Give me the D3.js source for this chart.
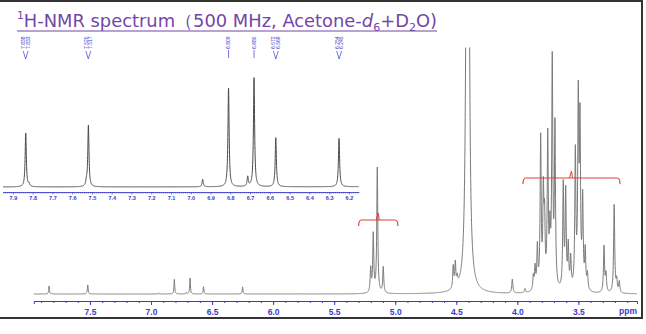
<!DOCTYPE html>
<html lang="en">
<head>
    <meta charset="UTF-8">
    <title>1H-NMR spectrum (500 MHz, Acetone-d6+D2O)</title>
    <style>
        body { margin: 0; background: #fff; }
        svg { display: block; }
    </style>
</head>
<body>
<script src="https://cdn.jsdelivr.net/npm/d3@7"></script>
<script>
    const width = 646, height = 334;

    // peak lists: chemical shift (ppm) and height (main-trace units)
    const aromaticShift  = [7.835, 7.818, 7.528, 7.518, 6.940, 6.809, 6.712, 6.680, 6.570, 6.250, 5.770];
    const aromaticHeight = [7.9, 0.4, 0.6, 9.0, 1.1, 14.5, 1.4, 16.0, 7.2, 7.1, 0.4];

    const anomericShift  = [5.201, 5.180, 5.147, 5.098];
    const anomericHeight = [24, 58, 125, 26];

    const waterShift  = [4.525, 4.508, 4.492, 4.407];
    const waterHeight = [22, 24, 8, 3000];

    const sugarShift  = [4.041, 3.937, 3.869, 3.855, 3.836, 3.809, 3.787, 3.777, 3.751, 3.733,
                         3.714, 3.692, 3.624, 3.604, 3.583, 3.563, 3.525, 3.501, 3.487, 3.465,
                         3.444, 3.426, 3.290, 3.274, 3.207, 3.186, 3.165];
    const sugarHeight = [14, 4, 14, 22, 42, 150, 90, 62, 150, 50,
                         225, 160, 104, 96, 42, 30, 135, 185, 160, 88,
                         38, 16, 46, 18, 88, 12, 11];

    // integration ranges (ppm)
    const integralFrom = [5.300, 3.954];
    const integralTo   = [4.978, 3.159];

    // picked peaks printed above the expansion
    const pickedPeaks = [[7.838, 7.833], [7.520, 7.517], [6.809], [6.680], [6.572, 6.568], [6.254, 6.245]];

    const mainTicks  = [7.5, 7.0, 6.5, 6.0, 5.5, 5.0, 4.5, 4.0, 3.5];
    const insetTicks = [7.9, 7.8, 7.7, 7.6, 7.5, 7.4, 7.3, 7.2, 7.1, 7.0, 6.9, 6.8, 6.7, 6.6, 6.5, 6.4, 6.3, 6.2];

    const blue = "#3b3bc8", purple = "#7446a6", red = "#e0413a";

    // half line width (ppm) used for each group of signals
    const peaks = [];
    [[aromaticShift, aromaticHeight, 0.0035], [anomericShift, anomericHeight, 0.005],
     [waterShift, waterHeight, 0.005], [sugarShift, sugarHeight, 0.0052]].forEach(([s, h, lw]) => {
        s.forEach((v, i) => peaks.push({shift: v, height: h[i], lw: lw}));
    });

    // lorentzian line shape for every listed peak
    function intensity(ppm) {
        let sum = 0;
        peaks.forEach(p => {
            const d = (ppm - p.shift) / p.lw;
            sum += p.height / (1 + d * d);
        });
        return sum;
    }

    const svg = d3.select("body")
        .append("svg")
        .attr("width", width)
        .attr("height", height)
        .attr("viewBox", [0, 0, width, height]);

    svg.append("rect").attr("width", width).attr("height", height).attr("fill", "#fff");

    // frame
    svg.append("rect")
        .attr("x", -2).attr("y", 1)
        .attr("width", 644).attr("height", 317)
        .attr("fill", "none")
        .attr("stroke", "#333")
        .attr("stroke-width", 2);

    // ---- main trace
    const x = d3.scaleLinear().domain([7.96, 3.02]).range([33.8, 637]);
    const y = d3.scaleLinear().domain([0, 247]).range([294, 47]);

    svg.append("clipPath").attr("id", "clip")
        .append("rect").attr("x", 0).attr("y", 47.5).attr("width", width).attr("height", 260);

    const mainPts = d3.range(7.96, 3.02, -0.001).map(p => [p, intensity(p)]);
    svg.append("path")
        .attr("clip-path", "url(#clip)")
        .attr("d", d3.line().x(d => x(d[0])).y(d => y(d[1]))(mainPts))
        .attr("fill", "none")
        .attr("stroke", "#7a7a7a")
        .attr("stroke-width", 1);

    // integrals
    const bracketY = [220, 178];
    integralFrom.forEach((from, i) => {
        const x1 = x(from), x2 = x(integralTo[i]), by = bracketY[i], xm = (x1 + x2) / 2;
        svg.append("path")
            .attr("d", `M${x1},${by + 6} Q${x1},${by} ${x1 + 3},${by} L${x2 - 3},${by} Q${x2},${by} ${x2},${by + 6}`)
            .attr("fill", "none").attr("stroke", red).attr("stroke-width", 1.2);
        svg.append("path")
            .attr("d", `M${xm - 2},${by} L${xm},${by - 7} L${xm + 1},${by}`)
            .attr("fill", "none").attr("stroke", red).attr("stroke-width", 1);
    });

    // main axis
    const axisY = 301;
    const minorMain = d3.range(79, 30, -1).map(v => v / 10);
    const gMinor = svg.append("g")
        .attr("transform", `translate(0,${axisY})`)
        .call(d3.axisBottom(x).tickValues(minorMain).tickSize(2).tickSizeOuter(0).tickFormat(""));
    const gMain = svg.append("g")
        .attr("transform", `translate(0,${axisY})`)
        .call(d3.axisBottom(x).tickValues(mainTicks).tickSize(4).tickSizeOuter(3).tickFormat(d3.format(".1f")));
    [gMinor, gMain].forEach(g => {
        g.selectAll("path,line").attr("stroke", blue);
    });
    gMain.selectAll("text")
        .attr("y", 7.5)
        .attr("fill", blue)
        .attr("font-family", "Liberation Sans, Arial, sans-serif")
        .attr("font-weight", "bold")
        .attr("font-size", 8.5);
    svg.append("text")
        .attr("x", 637).attr("y", 314)
        .attr("text-anchor", "end")
        .attr("fill", blue)
        .attr("font-family", "Liberation Sans, Arial, sans-serif")
        .attr("font-weight", "bold")
        .attr("font-size", 8.5)
        .text("ppm");

    // ---- expansion of the aromatic region
    const ix = d3.scaleLinear().domain([7.95, 6.15]).range([3, 358.8]);
    const iy = d3.scaleLinear().domain([0, 16]).range([187, 78]);

    const insetPts = d3.range(7.95, 6.15, -0.0005).map(p => [p, intensity(p)]);
    svg.append("path")
        .attr("d", d3.line().x(d => ix(d[0])).y(d => iy(d[1]))(insetPts))
        .attr("fill", "none")
        .attr("stroke", "#4a4a4a")
        .attr("stroke-width", 1);

    const insetAxisY = 192;
    const minorInset = d3.range(795, 615, -1).map(v => v / 100);
    const giMinor = svg.append("g")
        .attr("transform", `translate(0,${insetAxisY})`)
        .call(d3.axisBottom(ix).tickValues(minorInset).tickSize(1.5).tickSizeOuter(0).tickFormat(""));
    const giMain = svg.append("g")
        .attr("transform", `translate(0,${insetAxisY})`)
        .call(d3.axisBottom(ix).tickValues(insetTicks).tickSize(2.5).tickSizeOuter(0).tickFormat(d3.format(".1f")));
    [giMinor, giMain].forEach(g => {
        g.selectAll("path,line").attr("stroke", blue).attr("stroke-width", 0.6);
    });
    giMain.selectAll("text")
        .attr("y", 4)
        .attr("fill", blue)
        .attr("font-family", "Liberation Sans, Arial, sans-serif")
        .attr("font-weight", "bold")
        .attr("font-size", 5.5);

    // picked peak labels
    pickedPeaks.forEach(group => {
        const cx = ix(d3.mean(group));
        const g = svg.append("g");
        group.forEach((v, i) => {
            const tx = group.length === 1 ? cx : cx + (i === 0 ? -2.4 : 2.4);
            g.append("text")
                .attr("transform", `translate(${tx + 1.8},49) rotate(-90)`)
                .attr("fill", blue)
                .attr("font-family", "Liberation Sans, Arial, sans-serif")
                .attr("font-size", 5)
                .text(v.toFixed(3));
        });
        const d = group.length === 1
            ? `M${cx},50 L${cx},58`
            : `M${cx - 2.4},51 L${cx},59 L${cx + 2.4},51`;
        g.append("path").attr("d", d).attr("fill", "none").attr("stroke", blue).attr("stroke-width", 0.7);
    });

    // ---- title
    function drawTitle(fs) {
        svg.select("#title").remove();
        const t = svg.append("text")
            .attr("id", "title")
            .attr("x", 17).attr("y", 27)
            .attr("fill", purple)
            .attr("font-family", "DejaVu Sans, Verdana, sans-serif")
            .attr("font-size", fs);
        t.append("tspan").attr("font-size", fs * 0.6).attr("dy", -fs * 0.42).text("1");
        t.append("tspan").attr("dy", fs * 0.42).text("H-NMR spectrum\uFF08500 MHz, Acetone-");
        t.append("tspan").attr("font-style", "italic").text("d");
        t.append("tspan").attr("font-size", fs * 0.62).attr("dy", fs * 0.22).text("6");
        t.append("tspan").attr("dy", -fs * 0.22).text("+D");
        t.append("tspan").attr("font-size", fs * 0.62).attr("dy", fs * 0.22).text("2");
        t.append("tspan").attr("dy", -fs * 0.22).text("O)");
        return t.node().getBBox().width;
    }
    let fs = 19;
    const w = drawTitle(fs);
    fs = fs * 420 / w;
    drawTitle(fs);
    svg.append("line")
        .attr("x1", 17).attr("x2", 437)
        .attr("y1", 31).attr("y2", 31)
        .attr("stroke", purple)
        .attr("stroke-width", 1.2);
</script>
</body>
</html>
